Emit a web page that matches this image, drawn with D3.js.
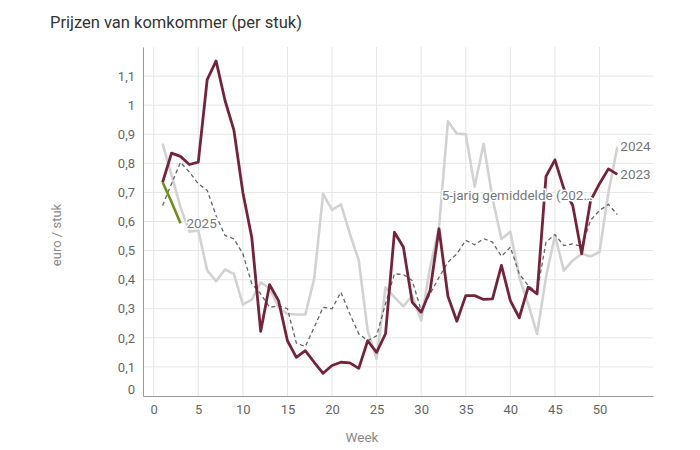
<!DOCTYPE html>
<html>
<head>
<meta charset="utf-8">
<script src="https://cdn.jsdelivr.net/npm/d3@7"></script>
<style>
  body { margin: 0; background: #fff; }
  text { font-family: Roboto, "Noto Sans", sans-serif; }
</style>
</head>
<body>
<div id="chart"></div>
<script>
// ===========Data
var weeks = d3.range(1, 53);

var prices2023 = [0.735, 0.835, 0.824, 0.796, 0.804, 1.088, 1.152, 1.016, 0.913, 0.70,
  0.545, 0.222, 0.383, 0.328, 0.19, 0.133, 0.156, 0.116, 0.078, 0.105,
  0.116, 0.114, 0.095, 0.19, 0.15, 0.214, 0.563, 0.512, 0.322, 0.288,
  0.363, 0.575, 0.343, 0.257, 0.345, 0.345, 0.332, 0.334, 0.449, 0.328,
  0.269, 0.374, 0.351, 0.755, 0.812, 0.713, 0.655, 0.489, 0.672, 0.730,
  0.781, 0.762];

var prices2024 = [0.868, 0.76, 0.65, 0.565, 0.57, 0.432, 0.395, 0.435, 0.42, 0.314,
  0.331, 0.391, 0.37, 0.305, 0.282, 0.28, 0.28, 0.403, 0.695, 0.64,
  0.659, 0.558, 0.466, 0.225, 0.128, 0.374, 0.34, 0.308, 0.345, 0.259,
  0.443, 0.58, 0.945, 0.902, 0.90, 0.72, 0.867, 0.68, 0.54, 0.565,
  0.409, 0.317, 0.214, 0.409, 0.552, 0.431, 0.466, 0.489, 0.48, 0.495,
  0.70, 0.856];

var prices5yr = [0.655, 0.73, 0.804, 0.77, 0.73, 0.707, 0.62, 0.552, 0.54, 0.489,
  0.386, 0.351, 0.305, 0.31, 0.30, 0.182, 0.17, 0.236, 0.305, 0.30,
  0.357, 0.282, 0.214, 0.19, 0.207, 0.317, 0.42, 0.418, 0.397, 0.293,
  0.351, 0.408, 0.46, 0.489, 0.535, 0.52, 0.541, 0.529, 0.48, 0.512,
  0.42, 0.38, 0.357, 0.529, 0.555, 0.517, 0.523, 0.514, 0.604, 0.638,
  0.659, 0.624];

var prices2025 = [0.735, 0.667, 0.594];

var xTicks = [0, 5, 10, 15, 20, 25, 30, 35, 40, 45, 50];
var yTicks = [0, 0.1, 0.2, 0.3, 0.4, 0.5, 0.6, 0.7, 0.8, 0.9, 1, 1.1];

// ===========Size
var svgWidth = 700;
var svgHeight = 450;

var svg = d3.select("#chart").append("svg")
    .attr("width", svgWidth)
    .attr("height", svgHeight);

// ===========Scales
var x = d3.scaleLinear().domain([-1.2, 56]).range([143, 653]);
var y = d3.scaleLinear().domain([0, 1.2]).range([396, 47]);

var commaFormat = d3.formatLocale({ decimal: ",", thousands: ".", grouping: [3], currency: ["€", ""] }).format("~g");

// ===========Grid
var grid = svg.append("g");
grid.selectAll(".vgrid")
    .data(xTicks)
    .enter().append("line")
    .attr("x1", d => x(d)).attr("x2", d => x(d))
    .attr("y1", y.range()[1]).attr("y2", y(0))
    .attr("stroke", "#e6e6e6").attr("stroke-width", 1);

grid.selectAll(".hgrid")
    .data(yTicks.filter(d => d > 0))
    .enter().append("line")
    .attr("x1", x.range()[0]).attr("x2", x.range()[1])
    .attr("y1", d => y(d)).attr("y2", d => y(d))
    .attr("stroke", "#e6e6e6").attr("stroke-width", 1);

// ===========Axes
var bottomAxis = d3.axisBottom(x).tickValues(xTicks).tickSize(0).tickPadding(9);
var xAxis = svg.append("g")
    .attr("transform", `translate(0, ${y(0)})`)
    .call(bottomAxis);
xAxis.select(".domain").attr("stroke", "#999");
xAxis.selectAll("text").attr("fill", "#666").attr("font-size", "13px");

var leftAxis = d3.axisLeft(y).tickValues(yTicks).tickSize(0).tickPadding(8)
    .tickFormat(commaFormat);
var yAxis = svg.append("g")
    .attr("transform", `translate(${x.range()[0]}, 0)`)
    .call(leftAxis);
yAxis.select(".domain").attr("stroke", "#999");
yAxis.selectAll("text").attr("fill", "#666").attr("font-size", "13px");
// the zero label sits a bit above the baseline
yAxis.selectAll(".tick").filter(d => d === 0).select("text").attr("dy", "-0.2em");

// ===========Lines
var line = d3.line()
    .x((d, i) => x(weeks[i]))
    .y(d => y(d));

svg.append("path").datum(prices2024)
    .attr("d", line).attr("fill", "none")
    .attr("stroke", "#d2d2d2").attr("stroke-width", 2.6)
    .attr("stroke-linejoin", "round");

svg.append("path").datum(prices5yr)
    .attr("d", line).attr("fill", "none")
    .attr("stroke", "#666").attr("stroke-width", 1.3)
    .attr("stroke-dasharray", "4,3");

svg.append("path").datum(prices2023)
    .attr("d", line).attr("fill", "none")
    .attr("stroke", "#74243a").attr("stroke-width", 2.8)
    .attr("stroke-linejoin", "round");

svg.append("path").datum(prices2025)
    .attr("d", line).attr("fill", "none")
    .attr("stroke", "#6f8f1c").attr("stroke-width", 2.6)
    .attr("stroke-linejoin", "round");

// ===========Line labels
function addLabel(txt, lx, ly) {
    svg.append("text")
        .attr("x", lx).attr("y", ly)
        .attr("dy", "0.35em")
        .attr("font-size", "13.5px")
        .attr("fill", "#777")
        .attr("stroke", "#fff").attr("stroke-width", 3)
        .attr("paint-order", "stroke")
        .text(txt);
}
addLabel("2024", x(52) + 3, y(0.856) - 1);
addLabel("2023", x(52) + 3, y(0.762));
addLabel("2025", x(3) + 6, y(0.594));
addLabel("5-jarig gemiddelde (202…", x(32.3), y(0.69));

// ===========Titles
svg.append("text")
    .attr("x", 50).attr("y", 28)
    .attr("font-size", "16.5px")
    .attr("fill", "#333")
    .text("Prijzen van komkommer (per stuk)");

svg.append("text")
    .attr("transform", "rotate(-90)")
    .attr("x", -235).attr("y", 61)
    .attr("text-anchor", "middle")
    .attr("font-size", "13px")
    .attr("fill", "#888")
    .text("euro / stuk");

svg.append("text")
    .attr("x", 362).attr("y", 442)
    .attr("text-anchor", "middle")
    .attr("font-size", "13.5px")
    .attr("fill", "#888")
    .text("Week");
</script>
</body>
</html>
